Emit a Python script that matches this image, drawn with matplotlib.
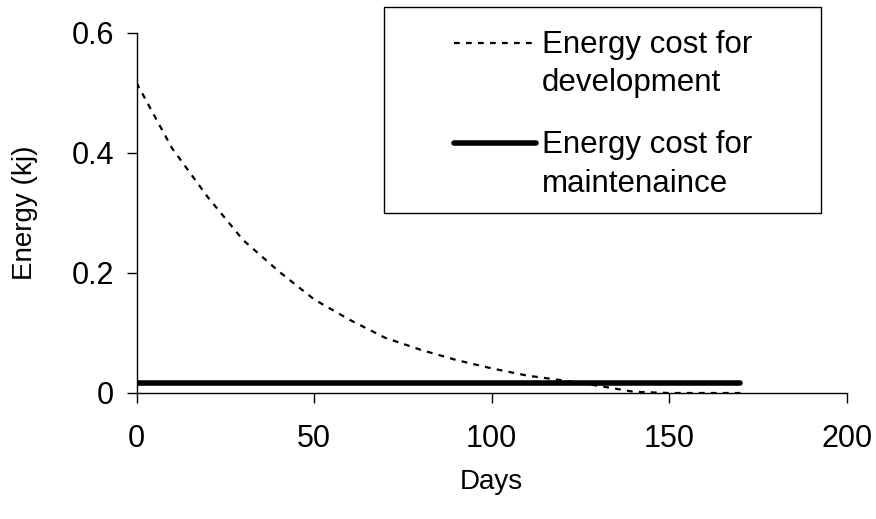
import matplotlib
matplotlib.use("Agg")
import matplotlib.pyplot as plt
from matplotlib.lines import Line2D
from matplotlib.patches import Rectangle
from matplotlib.ticker import FuncFormatter

plt.rcParams['font.family'] = ['Liberation Sans', 'DejaVu Sans']

days = [0, 10, 20, 30, 40, 50, 60, 70, 80, 90, 100, 110, 120, 130, 140, 150, 160, 170]
development = [0.517, 0.408, 0.327, 0.255, 0.203, 0.156, 0.122, 0.092, 0.072, 0.055,
               0.041, 0.029, 0.021, 0.012, 0.002, 0.0, 0.0, 0.0]
maintenance = [0.017] * len(days)

labels = ["Energy cost for\ndevelopment", "Energy cost for\nmaintenaince"]
x_ticks = [0, 50, 100, 150, 200]
y_ticks = [0, 0.2, 0.4, 0.6]

W, H = 876, 519
fig = plt.figure(figsize=(W / 100, H / 100), dpi=100)
ax = fig.add_axes([136.5 / W, 1 - 393 / H, (847 - 136.5) / W, (393 - 33) / H])

dash_style = dict(color='black', lw=1.6, linestyle=(0, (2.6, 2.8)))
solid_style = dict(color='black', lw=4, solid_capstyle='round')

ax.plot(days, development, **dash_style)
ax.plot(days, maintenance, **solid_style)

ax.set_xlim(0, 200)
ax.set_ylim(0, 0.6)
ax.set_xticks(x_ticks)
ax.set_yticks(y_ticks)
ax.yaxis.set_major_formatter(FuncFormatter(lambda v, p: '0' if v == 0 else f'{v:g}'))
for s in ['top', 'right']:
    ax.spines[s].set_visible(False)
for s in ['left', 'bottom']:
    ax.spines[s].set_linewidth(1.0)
    ax.spines[s].set_color('black')
ax.tick_params(axis='both', direction='out', length=7, width=1.0, labelsize=22, color='black')
ax.tick_params(axis='x', pad=15)
ax.tick_params(axis='y', pad=9)

ax.set_xlabel('Days', fontsize=20)
ax.xaxis.set_label_coords(0.5, (393 - 482) / 360)
ax.xaxis.label.set_va('center')
ax.set_ylabel('Energy (kj)', fontsize=20)
ax.yaxis.set_label_coords((25 - 136.5) / 710.5, 0.5)
ax.yaxis.label.set_va('center')

# Legend box (manual to align handles with first line of text)
def fx(px):
    return px / W

def fy(py):
    return 1 - py / H

fig.add_artist(Rectangle((fx(384), fy(213)), fx(821) - fx(384), fy(7) - fy(213),
                         transform=fig.transFigure, facecolor='white', edgecolor='black', lw=1.0))
handles = [(43, dash_style, 52.7, 90.7), (143, solid_style, 152.7, 191.7)]
for (ly, style, b1, b2), lab in zip(handles, labels):
    fig.add_artist(Line2D([fx(454), fx(536)], [fy(ly), fy(ly)], transform=fig.transFigure, **style))
    l1, l2 = lab.split('\n')
    fig.text(fx(542), fy(b1), l1, fontsize=22.5, va='baseline', ha='left')
    fig.text(fx(542), fy(b2), l2, fontsize=22.5, va='baseline', ha='left')

fig.savefig('out.png', dpi=100)
